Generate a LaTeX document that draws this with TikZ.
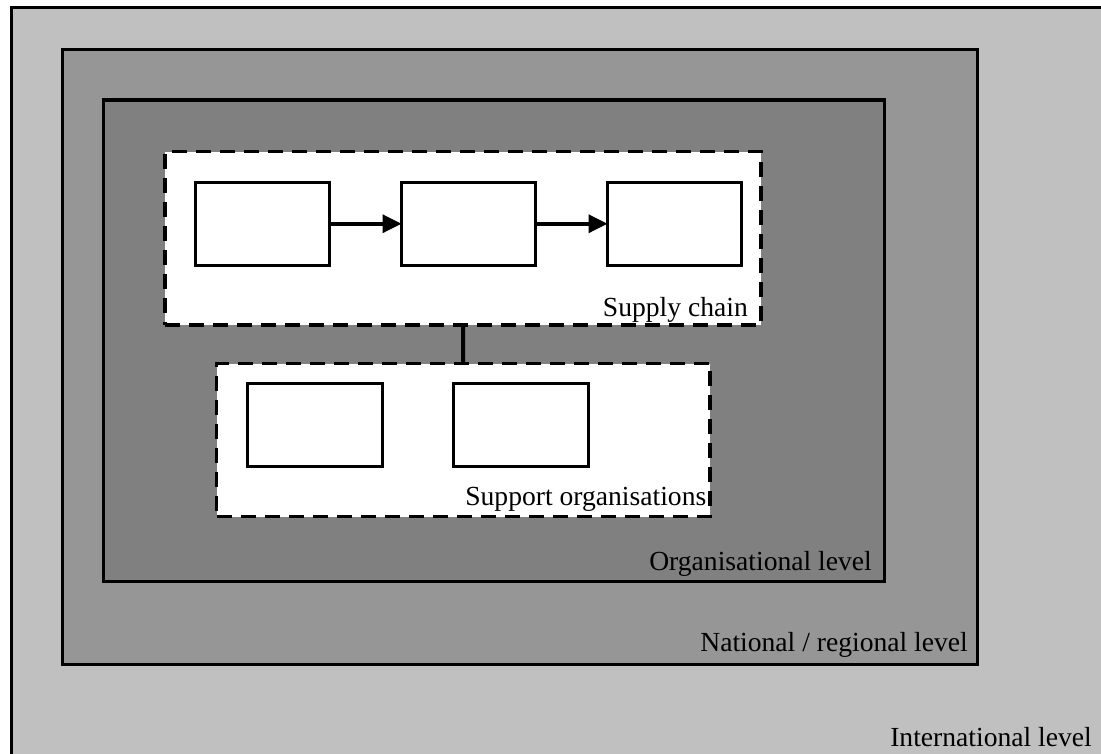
\documentclass[tikz,border=0pt]{standalone}
\usepackage{fontspec}
\setmainfont{Liberation Serif}
\usetikzlibrary{arrows.meta}
\definecolor{intlgray}{RGB}{192,192,192}
\definecolor{natlgray}{RGB}{150,150,150}
\definecolor{orggray}{RGB}{128,128,128}
\begin{document}
\begin{tikzpicture}[x=1pt,y=-1pt,
  level/.style={draw=black,line width=3.5pt,rectangle,inner sep=0pt,outer sep=0pt,anchor=north west},
  group/.style={draw=black,fill=white,line width=3.5pt,dash pattern=on 15pt off 9pt,rectangle,inner sep=0pt,outer sep=0pt,anchor=north west},
  unit/.style={draw=black,fill=white,line width=3pt,rectangle,inner sep=0pt,outer sep=0pt,anchor=north west},
  flow/.style={line width=3.5pt,-{Triangle[length=19pt,width=18pt]}},
  link/.style={line width=4pt},
  lbl/.style={anchor=base east,inner sep=0pt,font=\fontsize{27.6}{31}\selectfont}
]
\useasboundingbox (0,0) rectangle (1101,753);
\fill[white] (0,0) rectangle (1101,753);
% levels
\node[level,fill=intlgray,minimum width=1120pt,minimum height=770pt] (intl) at (11.5,7.5) {};
\node[level,fill=natlgray,minimum width=915pt,minimum height=615pt] (natl) at (62.5,49.5) {};
\node[level,fill=orggray,minimum width=781pt,minimum height=481.5pt] (org) at (103.5,100) {};
% groups
\node[group,minimum width=596pt,minimum height=173.5pt] (supply) at (165,151.5) {};
\node[group,minimum width=493.5pt,minimum height=153pt] (support) at (216.5,363.5) {};
% supply chain units
\node[unit,minimum width=134pt,minimum height=82.5pt] (s1) at (195.5,182.5) {};
\node[unit,minimum width=134pt,minimum height=82.5pt] (s2) at (401.5,182.5) {};
\node[unit,minimum width=134pt,minimum height=82.5pt] (s3) at (607.5,182.5) {};
% support units
\node[unit,minimum width=134.5pt,minimum height=83pt] (o1) at (247.5,383) {};
\node[unit,minimum width=134.5pt,minimum height=83pt] (o2) at (453.5,383) {};
% connectors
\draw[flow] (s1.east) -- (s2.west);
\draw[flow] (s2.east) -- (s3.west);
\draw[link] (supply.south) -- (support.north);
% labels
\node[lbl] (lsupply) at (748,316) {Supply chain};
\node[lbl] (lsupport) at (706.5,505.5) {Support organisations};
\node[lbl] (lorg) at (872,570) {Organisational level};
\node[lbl] (lnatl) at (968,651.5) {National / regional level};
\node[lbl] (lintl) at (1092,746.5) {International level};
\end{tikzpicture}
\end{document}
